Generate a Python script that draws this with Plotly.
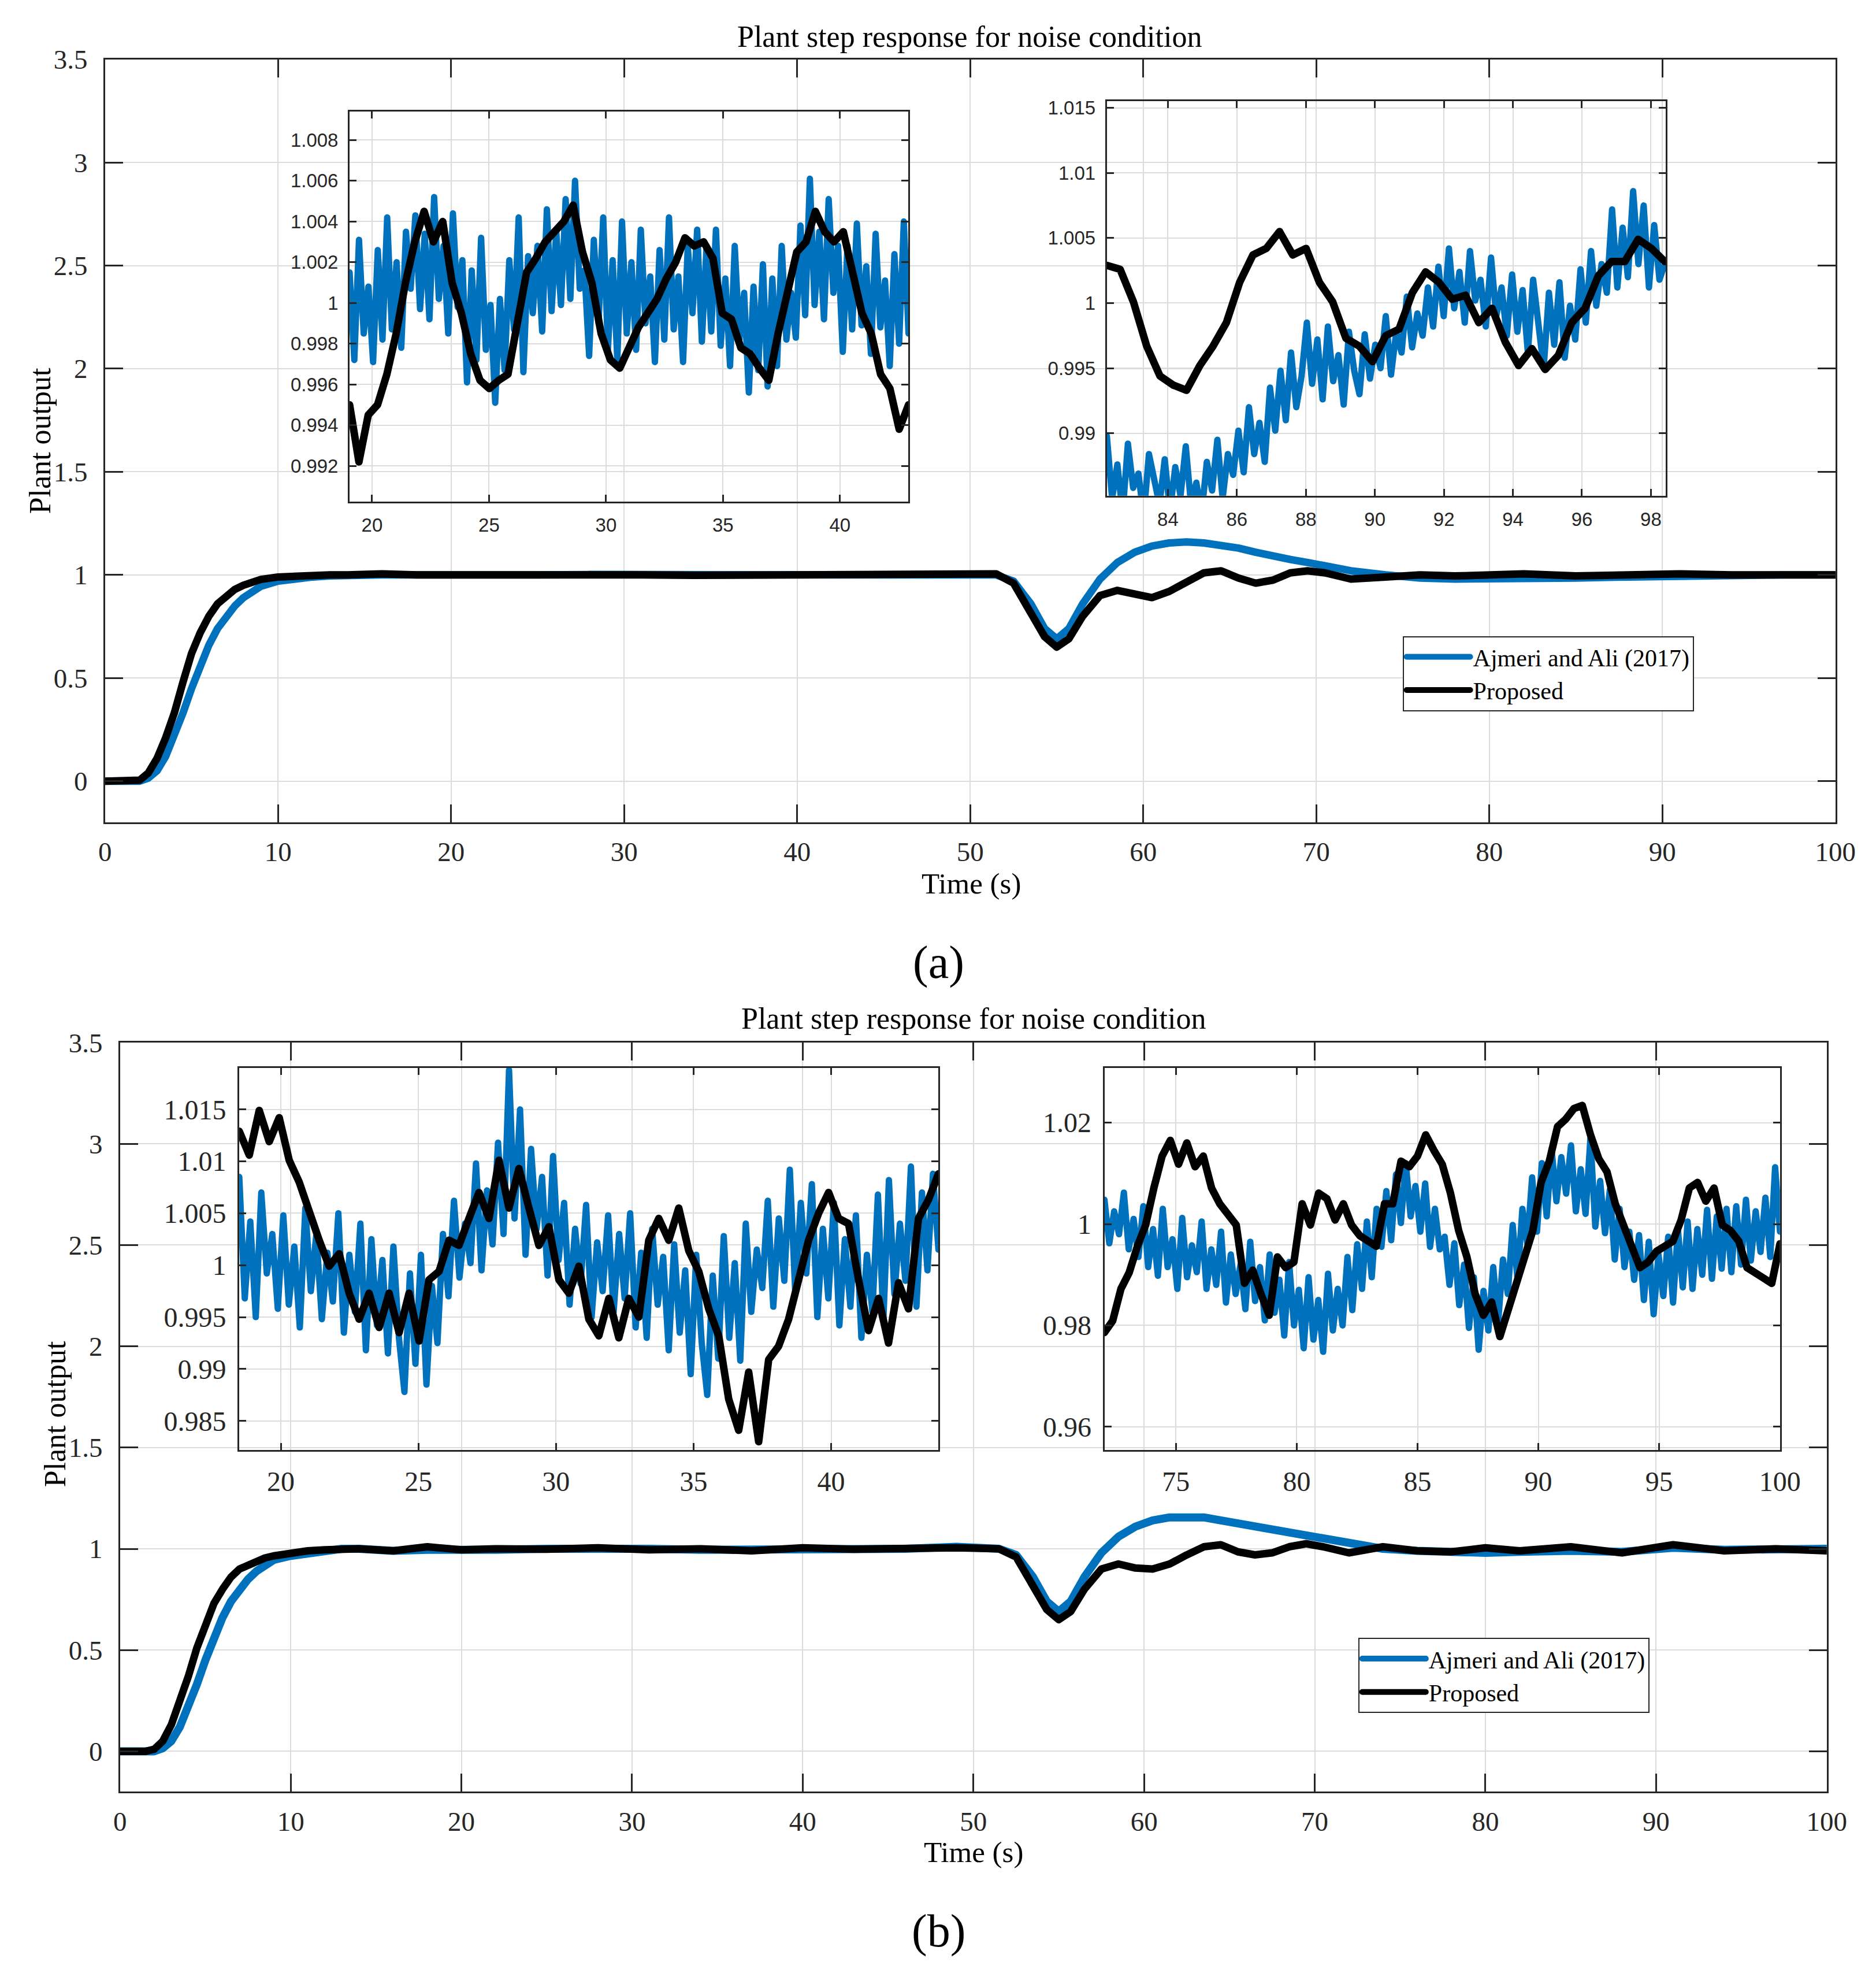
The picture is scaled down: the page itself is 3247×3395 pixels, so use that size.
import numpy as np
import plotly.graph_objects as go

# ---- data ----
series_names = ["Ajmeri and Ali (2017)", "Proposed"]

# full runs (both panels share the time samples)
t_main = [0, 1.5, 2.0, 2.5, 3, 3.5, 4, 4.5, 5, 5.5, 6, 6.5, 7, 7.5, 8, 8.5, 9, 10, 11, 12, 13, 14,
          16, 18, 20, 22, 25, 28, 31, 34, 37, 40, 43, 46, 49, 50.5, 51.5, 52.5, 53.5, 54.3, 55, 55.7,
          56.5, 57.5, 58.5, 59.5, 60.5, 61.5, 62.5, 63.5, 64.5, 65.5, 66.5, 67.5, 68.5, 69.5, 70.5,
          72, 74, 76, 78, 80, 82, 85, 88, 91, 94, 97, 100]
blue_a = [0, 0, 0.0, 0.015, 0.05, 0.12, 0.22, 0.33, 0.45, 0.56, 0.66, 0.74, 0.80, 0.85, 0.89, 0.92, 0.945,
          0.97, 0.983, 0.99, 0.995, 0.998, 1.0, 1.0, 0.998, 1.0, 1.0, 1.002, 1.0, 0.999, 1.0, 1.0, 1.0,
          1.0, 1.0, 1.0, 1.0, 0.97, 0.86, 0.74, 0.69, 0.74, 0.86, 0.98, 1.06, 1.11, 1.14, 1.155, 1.16,
          1.155, 1.145, 1.13, 1.11, 1.09, 1.075, 1.06, 1.045, 1.02, 1.0, 0.985, 0.98, 0.98, 0.983,
          0.985, 0.99, 0.995, 1.0, 1.0, 1.0]
black_a = [0, 0, 0.005, 0.04, 0.11, 0.21, 0.33, 0.48, 0.62, 0.72, 0.80, 0.86, 0.90, 0.93, 0.95, 0.965,
           0.978, 0.99, 0.995, 0.997, 1.0, 1.0, 1.005, 1.0, 0.996, 1.0, 1.0, 1.003, 1.0, 0.998, 1.0,
           1.002, 1.0, 1.002, 1.0, 1.002, 1.005, 0.96, 0.82, 0.70, 0.65, 0.69, 0.80, 0.90, 0.925, 0.905,
           0.89, 0.92, 0.97, 1.01, 1.02, 0.985, 0.96, 0.975, 1.01, 1.02, 1.01, 0.98, 0.99, 1.0, 0.995,
           1.0, 1.005, 0.995, 1.0, 1.005, 1.0, 1.0, 1.0]
blue_b = [0, 0, 0.0, 0.015, 0.05, 0.12, 0.22, 0.33, 0.45, 0.56, 0.66, 0.74, 0.80, 0.85, 0.89, 0.92, 0.945,
          0.965, 0.98, 0.99, 1.0, 1.0, 0.99, 0.995, 0.99, 0.995, 1.0, 1.005, 1.0, 0.995, 0.995, 0.995,
          1.0, 1.0, 1.01, 1.005, 1.0, 0.97, 0.86, 0.74, 0.69, 0.74, 0.86, 0.98, 1.06, 1.11, 1.14, 1.155,
          1.16, 1.155, 1.14, 1.125, 1.105, 1.09, 1.075, 1.06, 1.045, 1.02, 1.0, 0.99, 0.985, 0.98,
          0.985, 0.99, 0.985, 1.005, 0.995, 1.0, 1.0]
black_b = [0, 0, 0.01, 0.05, 0.13, 0.24, 0.37, 0.51, 0.63, 0.73, 0.80, 0.86, 0.90, 0.92, 0.94, 0.955,
           0.965, 0.98, 0.99, 0.995, 1.0, 1.0, 0.99, 1.01, 0.995, 1.0, 0.998, 1.005, 0.995, 1.0, 0.99,
           1.005, 0.998, 1.005, 1.005, 1.002, 1.0, 0.96, 0.82, 0.70, 0.65, 0.69, 0.80, 0.90, 0.925, 0.905,
           0.90, 0.925, 0.97, 1.01, 1.02, 0.985, 0.97, 0.98, 1.01, 1.025, 1.01, 0.98, 1.01, 0.99,
           0.985, 1.005, 0.99, 1.01, 0.98, 1.02, 0.99, 1.0, 0.99]

# inset (a) left, 19.04 .. 42.93 s
ia1_span = [19.04, 42.93]
ia1_blue = [1.0015, 0.9972, 1.0031, 0.9985, 1.0008,
            0.9971, 1.0026, 0.9982, 1.0042, 0.9987,
            1.0020, 0.9978, 1.0035, 1.0007, 1.0043,
            0.9997, 1.0034, 0.9992, 1.0052, 1.0002,
            1.0028, 0.9985, 1.0044, 0.9998, 1.0021,
            0.9961, 1.0016, 0.9972, 1.0032, 0.9977,
            0.9999, 0.9951, 1.0002, 0.9967, 1.0021,
            0.9987, 1.0042, 0.9966, 1.0023, 0.9995,
            1.0028, 0.9986, 1.0046, 0.9996, 1.0035,
            0.9999, 1.0051, 1.0002, 1.0060, 1.0007,
            1.0016, 0.9974, 1.0031, 0.9990, 1.0042,
            0.9977, 1.0021, 0.9972, 1.0040, 0.9985,
            1.0020, 0.9977, 1.0036, 0.9990, 1.0013,
            0.9971, 1.0026, 0.9982, 1.0042, 0.9987,
            1.0013, 0.9971, 1.0028, 0.9995, 1.0036,
            0.9981, 1.0028, 0.9986, 1.0036, 0.9979,
            1.0012, 0.9969, 1.0028, 0.9982, 1.0005,
            0.9956, 1.0008, 0.9967, 1.0019, 0.9959,
            1.0012, 0.9969, 1.0028, 0.9982, 1.0005,
            0.9983, 1.0038, 0.9994, 1.0061, 0.9999,
            1.0035, 0.9992, 1.0051, 1.0005, 1.0028,
            0.9976, 1.0028, 0.9987, 1.0039, 0.9989,
            1.0018, 0.9975, 1.0034, 0.9988, 1.0011,
            0.9969, 1.0024, 0.9980, 1.0040, 0.9985]
ia1_black = [0.9950, 0.9922, 0.9945, 0.9950, 0.9965, 0.9985, 1.0010, 1.0030, 1.0045, 1.0030,
             1.0040, 1.0010, 0.9995, 0.9975, 0.9962, 0.9958, 0.9962, 0.9965, 0.9990, 1.0015,
             1.0022, 1.0030, 1.0035, 1.0040, 1.0048, 1.0025, 1.0010, 0.9985, 0.9972, 0.9968,
             0.9978, 0.9988, 0.9995, 1.0002, 1.0012, 1.0020, 1.0032, 1.0028, 1.0030, 1.0022,
             0.9995, 0.9992, 0.9978, 0.9975, 0.9968, 0.9962, 0.9985, 1.0005, 1.0025, 1.0030,
             1.0045, 1.0035, 1.0030, 1.0035, 1.0015, 0.9995, 0.9985, 0.9965, 0.9958, 0.9938,
             0.9950]

# inset (a) right, 82.23 .. 98.4 s
ia2_span = [82.23, 98.4]
ia2_blue = [0.9898, 0.9850, 0.9876, 0.9838, 0.9892, 0.9858, 0.9869, 0.9836, 0.9884, 0.9862,
            0.9845, 0.9880, 0.9840, 0.9874, 0.9852, 0.9890, 0.9845, 0.9862, 0.9838, 0.9878,
            0.9856, 0.9895, 0.9850, 0.9884, 0.9868, 0.9902,
            0.9870, 0.9920, 0.9884, 0.9908, 0.9878, 0.9935, 0.9902, 0.9948, 0.9910, 0.9962,
            0.9920, 0.9944, 0.9985,
            0.9938, 0.9972, 0.9926, 0.9982, 0.9940, 0.9960, 0.9922, 0.9978, 0.9948, 0.9930,
            0.9976, 0.9942, 0.9968,
            0.9950, 0.9990, 0.9945, 0.9978, 0.9962, 1.0005, 0.9966, 0.9992, 0.9975, 1.0012,
            0.9982, 1.0028, 0.9990,
            1.0042, 0.9996, 1.0024, 0.9985, 1.0040, 1.0002, 1.0018, 0.9982, 1.0035, 0.9990,
            1.0012, 0.9975, 1.0022,
            0.9978, 1.0010, 0.9962, 1.0018, 0.9984, 0.9950, 1.0008, 0.9968, 1.0016, 0.9958,
            0.9998, 0.9972, 1.0026,
            0.9985, 1.0040, 0.9998, 1.0030, 1.0008, 1.0072, 1.0012, 1.0058, 1.0020, 1.0086,
            1.0030, 1.0075, 1.0012, 1.0060, 1.0018, 1.0030]
ia2_black = [1.0029, 1.0026, 1.0001, 0.9967, 0.9944, 0.9937, 0.9933, 0.9952, 0.9967, 0.9985,
             1.0016, 1.0037, 1.0042, 1.0055, 1.0037, 1.0042, 1.0016, 1.0001, 0.9973, 0.9967,
             0.9955, 0.9975, 0.9980, 1.0008, 1.0024, 1.0016, 1.0003, 1.0006, 0.9985, 0.9996,
             0.9970, 0.9952, 0.9965, 0.9949, 0.9960, 0.9985, 0.9996, 1.0021, 1.0032, 1.0032,
             1.0049, 1.0042, 1.0032]

# inset (b) left, 18.49 .. 43.9 s
ib1_span = [18.49, 43.9]
ib1_blue = [1.0085, 0.9968, 1.0042, 0.9950, 1.0070, 0.9992, 1.0030, 0.9958,
            1.0048, 0.9962, 1.0018, 0.9940, 1.0055, 0.9975, 1.0030, 0.9948, 1.0012, 0.9965,
            1.0050, 0.9935, 1.0010, 0.9955, 1.0040, 0.9918, 1.0025, 0.9942, 1.0005, 0.9915,
            1.0018, 0.9930, 0.9878, 0.9992, 0.9905, 1.0010, 0.9885, 0.9980, 0.9925, 1.0030,
            0.9970, 1.0062, 0.9988, 1.0040, 1.0002, 1.0098, 0.9995, 1.0072, 1.0020, 1.0118,
            1.0030, 1.0188, 1.0045, 1.0150, 1.0010, 1.0112, 1.0035, 1.0085, 0.9990, 1.0105,
            1.0005, 1.0060, 0.9962, 1.0035, 0.9982, 1.0058, 0.9950, 1.0022, 0.9975, 1.0048,
            0.9955, 1.0030, 0.9968, 1.0050, 0.9940, 1.0012, 0.9930, 1.0035, 0.9962, 1.0008,
            0.9918, 1.0020, 0.9935, 0.9995, 0.9895, 1.0010, 0.9925, 0.9875, 0.9990, 0.9910,
            1.0028, 0.9930, 1.0002, 0.9908, 1.0040, 0.9955, 1.0015, 0.9978, 1.0062, 0.9960,
            1.0045, 0.9985, 1.0092, 0.9972, 1.0060, 0.9992, 1.0078, 0.9950, 1.0035, 0.9968,
            1.0060, 0.9942, 1.0025, 0.9960, 1.0048, 0.9930, 1.0010, 0.9955, 1.0068, 0.9948,
            1.0082, 0.9972, 1.0040, 0.9985, 1.0095, 0.9960, 1.0070, 0.9995, 1.0088, 1.0015]
ib1_black = [1.0129, 1.0106, 1.0149, 1.0119, 1.0142, 1.0101, 1.0080, 1.0050, 1.0024, 0.9999,
             1.0011, 0.9973, 0.9948, 0.9973, 0.9940, 0.9973, 0.9935, 0.9973, 0.9927, 0.9986,
             0.9994, 1.0024, 1.0019, 1.0045, 1.0070, 1.0045, 1.0101, 1.0055, 1.0093, 1.0055,
             1.0019, 1.0037, 0.9986, 0.9973, 0.9999, 0.9948, 0.9932, 0.9968, 0.9930, 0.9968,
             0.9950, 1.0024, 1.0045, 1.0024, 1.0055, 1.0014, 0.9994, 0.9958, 0.9932, 0.9871,
             0.9841, 0.9897, 0.9830, 0.9909, 0.9922, 0.9948, 0.9983, 1.0024, 1.0050, 1.0070,
             1.0045, 1.0040, 0.9986, 0.9937, 0.9968, 0.9925, 0.9983, 0.9958, 1.0045, 1.0063,
             1.0088]

# inset (b) right, 72.04 .. 100 s
ib2_span = [72.04, 100.0]
ib2_blue = [1.0048, 0.9962, 1.0025, 0.9980, 1.0062, 0.9950, 1.0010, 0.9935, 1.0035, 0.9915,
            0.9990, 0.9898, 1.0030, 0.9915, 0.9970, 0.9872, 1.0012, 0.9895, 0.9958, 0.9905,
            1.0005, 0.9872, 0.9950, 0.9880, 0.9985, 0.9845, 0.9940, 0.9862, 0.9920, 0.9832,
            0.9965, 0.9848, 0.9915, 0.9810, 0.9940, 0.9825, 0.9890, 0.9780, 0.9925, 0.9800,
            0.9870, 0.9755, 0.9895, 0.9772, 0.9850, 0.9748, 0.9902, 0.9790, 0.9872, 0.9800,
            0.9935, 0.9830, 0.9960, 0.9872, 1.0005, 0.9895, 1.0030, 0.9955, 1.0065, 0.9968,
            1.0098, 1.0002, 1.0120, 1.0015, 1.0075, 0.9985, 1.0080, 0.9955, 1.0030, 0.9950,
            0.9975, 0.9880, 0.9962, 0.9840, 0.9920, 0.9795, 0.9895, 0.9752, 0.9868, 0.9790,
            0.9915, 0.9805, 0.9930, 0.9862, 0.9998, 0.9890, 1.0030, 0.9962, 1.0092, 0.9985,
            1.0120, 1.0015, 1.0148, 1.0045, 1.0132, 1.0060, 1.0155, 1.0025, 1.0108, 1.0020,
            1.0170, 0.9995, 1.0085, 0.9982, 1.0068, 0.9930, 1.0030, 0.9915, 0.9985, 0.9890,
            0.9978, 0.9850, 0.9965, 0.9822, 0.9940, 0.9858, 0.9975, 0.9845, 0.9990, 0.9875,
            1.0005, 0.9872, 0.9990, 0.9900, 1.0028, 0.9892, 1.0015, 0.9912, 1.0030, 0.9905,
            1.0035, 0.9920, 1.0048, 0.9928, 1.0025, 0.9945, 1.0052, 0.9935, 1.0112, 0.9985]
ib2_black = [0.9786, 0.9809, 0.9872, 0.9904, 0.9956, 0.9998, 1.0071, 1.0134, 1.0165, 1.0118,
             1.0160, 1.0113, 1.0134, 1.0071, 1.0040, 1.0019, 0.9998, 0.9883, 0.9909, 0.9862,
             0.9820, 0.9935, 0.9914, 0.9925, 1.0040, 0.9998, 1.0061, 1.0050, 1.0008, 1.0040,
             0.9998, 0.9977, 0.9966, 0.9956, 1.0040, 1.0040, 1.0124, 1.0113, 1.0134, 1.0176,
             1.0145, 1.0118, 1.0061, 0.9987, 0.9935, 0.9862, 0.9820, 0.9846, 0.9778, 0.9830,
             0.9883, 0.9925, 0.9987, 1.0082, 1.0124, 1.0192, 1.0207, 1.0228, 1.0234, 1.0176,
             1.0129, 1.0103, 1.0040, 0.9998, 0.9956, 0.9914, 0.9925, 0.9946, 0.9956, 0.9966,
             1.0008, 1.0071, 1.0082, 1.0045, 1.0071, 0.9998, 0.9987, 0.9966, 0.9914, 0.9904,
             0.9893, 0.9883, 0.9961]

# tick labels
main_x_ticks = [0, 10, 20, 30, 40, 50, 60, 70, 80, 90, 100]
main_y_ticks = [0, 0.5, 1, 1.5, 2, 2.5, 3, 3.5]
main_y_text = ["0", "0.5", "1", "1.5", "2", "2.5", "3", "3.5"]
ia1_x_ticks = [20, 25, 30, 35, 40]
ia1_y_ticks = [0.992, 0.994, 0.996, 0.998, 1.0, 1.002, 1.004, 1.006, 1.008]
ia1_y_text = ["0.992", "0.994", "0.996", "0.998", "1", "1.002", "1.004", "1.006", "1.008"]
ia2_x_ticks = [84, 86, 88, 90, 92, 94, 96, 98]
ia2_y_ticks = [0.99, 0.995, 1.0, 1.005, 1.01, 1.015]
ia2_y_text = ["0.99", "0.995", "1", "1.005", "1.01", "1.015"]
ib1_x_ticks = [20, 25, 30, 35, 40]
ib1_y_ticks = [0.985, 0.99, 0.995, 1.0, 1.005, 1.01, 1.015]
ib1_y_text = ["0.985", "0.99", "0.995", "1", "1.005", "1.01", "1.015"]
ib2_x_ticks = [75, 80, 85, 90, 95, 100]
ib2_y_ticks = [0.96, 0.98, 1.0, 1.02]
ib2_y_text = ["0.96", "0.98", "1", "1.02"]

BLUE = "#0072BD"
BLACK = "#000000"
AXC = "#262626"
SERIF = "Liberation Serif, Times New Roman, serif"
SANS = "Liberation Sans, Arial, sans-serif"
W, H = 3247, 3395


def axis(domain, rng, vals, text=None, font=SERIF, size=47, ticklen=31, anchor=None, standoff=10):
    return dict(domain=domain, range=rng, tickmode="array", tickvals=vals,
                ticktext=text if text is not None else [str(v) for v in vals],
                showgrid=True, gridcolor="#dcdcdc", gridwidth=2, zeroline=False,
                showline=True, mirror="ticks", linecolor=AXC, linewidth=3,
                ticks="inside", ticklen=ticklen, tickwidth=3, tickcolor=AXC,
                tickfont=dict(family=font, size=size, color=AXC),
                ticklabelstandoff=standoff, anchor=anchor)


fig = go.Figure()


def add_pair(t_blue, y_blue, t_black, y_black, xa, ya, wb, wk, legend=None):
    fig.add_trace(go.Scatter(x=t_blue, y=y_blue, mode="lines", name=series_names[0],
                             line=dict(color=BLUE, width=wb), xaxis=xa, yaxis=ya,
                             showlegend=legend is not None, legend=legend or "legend"))
    fig.add_trace(go.Scatter(x=t_black, y=y_black, mode="lines", name=series_names[1],
                             line=dict(color=BLACK, width=wk), xaxis=xa, yaxis=ya,
                             showlegend=legend is not None, legend=legend or "legend"))


add_pair(t_main, blue_a, t_main, black_a, "x", "y", 13, 13, "legend")
add_pair(np.linspace(*ia1_span, len(ia1_blue)), ia1_blue,
         np.linspace(*ia1_span, len(ia1_black)), ia1_black, "x2", "y2", 11, 13)
add_pair(np.linspace(*ia2_span, len(ia2_blue)), ia2_blue,
         np.linspace(*ia2_span, len(ia2_black)), ia2_black, "x3", "y3", 11, 13)
add_pair(t_main, blue_b, t_main, black_b, "x4", "y4", 14, 13, "legend2")
add_pair(np.linspace(*ib1_span, len(ib1_blue)), ib1_blue,
         np.linspace(*ib1_span, len(ib1_black)), ib1_black, "x5", "y5", 11, 13)
add_pair(np.linspace(*ib2_span, len(ib2_blue)), ib2_blue,
         np.linspace(*ib2_span, len(ib2_black)), ib2_black, "x6", "y6", 11, 13)

legend_style = dict(bgcolor="white", bordercolor=AXC, borderwidth=2,
                    font=dict(family=SERIF, size=42, color="black"),
                    xanchor="left", yanchor="top", tracegroupgap=0, itemwidth=110)

fig.update_layout(
    width=W, height=H, margin=dict(l=0, r=0, t=0, b=0),
    paper_bgcolor="white", plot_bgcolor="rgba(0,0,0,0)",
    xaxis=axis([0.0506, 0.9868], [0, 100], main_x_ticks, anchor="y", standoff=8),
    yaxis=axis([0.5877, 0.9796], [-0.2, 3.5], main_y_ticks, main_y_text, anchor="x", standoff=18),
    xaxis2=axis([0.1829, 0.4853], [19.04, 42.93], ia1_x_ticks, font=SANS, size=33, ticklen=12, anchor="y2"),
    yaxis2=axis([0.7525, 0.9528], [0.99025, 1.0094], ia1_y_ticks, ia1_y_text, font=SANS, size=33, ticklen=12, anchor="x2"),
    xaxis3=axis([0.5926, 0.8950], [82.23, 98.43], ia2_x_ticks, font=SANS, size=33, ticklen=12, anchor="y3"),
    yaxis3=axis([0.7555, 0.9580], [0.9852, 1.0155], ia2_y_ticks, ia2_y_text, font=SANS, size=33, ticklen=12, anchor="x3"),
    xaxis4=axis([0.0587, 0.9821], [0, 100], main_x_ticks, anchor="y4", standoff=8),
    yaxis4=axis([0.0898, 0.4746], [-0.2, 3.5], main_y_ticks, main_y_text, anchor="x4", standoff=18),
    xaxis5=axis([0.1232, 0.5015], [18.49, 43.9], ib1_x_ticks, size=48, ticklen=12, anchor="y5"),
    yaxis5=axis([0.2653, 0.4616], [0.98219, 1.019], ib1_y_ticks, ib1_y_text, size=48, ticklen=12, anchor="x5"),
    xaxis6=axis([0.5913, 0.9568], [72.04, 100.0], ib2_x_ticks, size=48, ticklen=12, anchor="y6"),
    yaxis6=axis([0.2653, 0.4616], [0.9554, 1.0308], ib2_y_ticks, ib2_y_text, size=48, ticklen=12, anchor="x6"),
    legend=dict(x=0.7526, y=0.6834, **legend_style),
    legend2=dict(x=0.7286, y=0.1688, **legend_style),
)

notes = [
    ("Plant step response for noise condition", 0.5184, 0.9912, 52, 0),
    ("Time (s)", 0.5191, 0.5562, 51, 0),
    ("Plant output", 0.0155, 0.7837, 52, -90),
    ("(a)", 0.5015, 0.5157, 80, 0),
    ("Plant step response for noise condition", 0.5204, 0.4868, 52, 0),
    ("Time (s)", 0.5204, 0.0589, 51, 0),
    ("Plant output", 0.0236, 0.2838, 52, -90),
    ("(b)", 0.5015, 0.0184, 80, 0),
]
for txt, x, y, size, ang in notes:
    fig.add_annotation(text=txt, x=x, y=y, xref="paper", yref="paper", showarrow=False,
                       textangle=ang, xanchor="center", yanchor="middle",
                       font=dict(family=SERIF, size=size, color="black"))

# MATLAB draws thick lines with rounded joins
round_js = ("document.querySelectorAll('path.js-line').forEach(function(p){"
            "p.style.strokeLinejoin='round';p.style.strokeLinecap='round';});")
fig.write_html("out.html", post_script=round_js)
